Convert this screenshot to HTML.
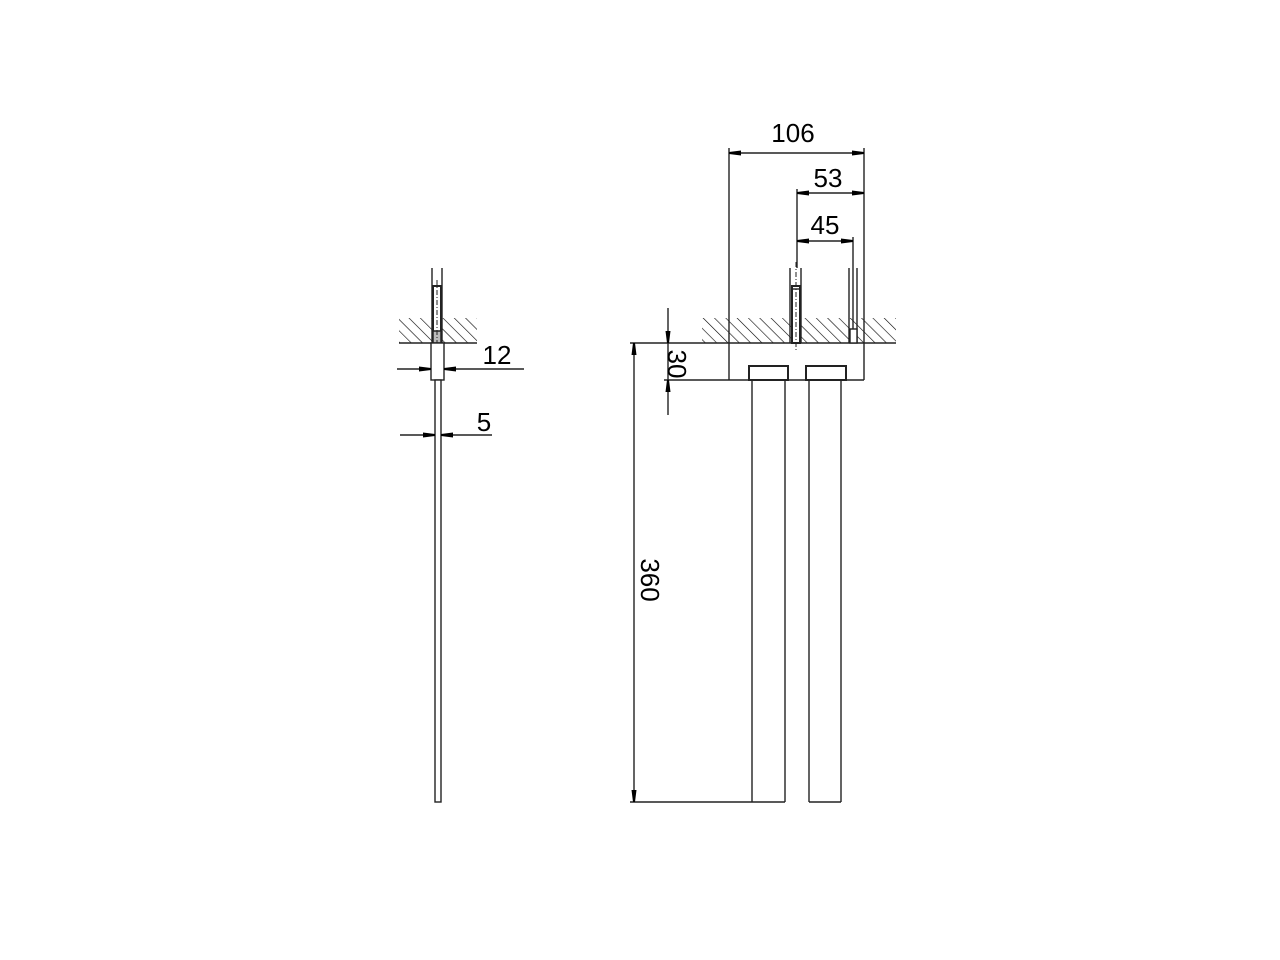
<!DOCTYPE html>
<html><head><style>body{margin:0;background:#fff}svg{display:block}</style></head>
<body>
<svg width="1280" height="960" viewBox="0 0 1280 960" xmlns="http://www.w3.org/2000/svg">
<defs>
<pattern id="h" width="8" height="8" patternUnits="userSpaceOnUse" patternTransform="rotate(-45)">
<line x1="0" y1="0" x2="0" y2="8" stroke="#000" stroke-width="1.2"/>
</pattern>
<marker id="a" viewBox="0 0 12 6" refX="12" refY="3" markerWidth="12" markerHeight="6" orient="auto-start-reverse" markerUnits="userSpaceOnUse">
<path d="M0,0.5 L12,2 L12,4 L0,5.5 Z" fill="#000"/></marker>
</defs>
<g stroke="#222" stroke-width="1.4" fill="none">
<!-- left view -->
<rect x="399" y="318" width="78" height="25" fill="url(#h)" stroke="none"/>
<line x1="399" y1="343" x2="477" y2="343"/>
<line x1="432" y1="268" x2="432" y2="343"/>
<line x1="442" y1="268" x2="442" y2="343"/>
<rect x="433" y="286" width="8" height="57" fill="#fff" stroke-width="2"/>
<rect x="433" y="331" width="8" height="12" fill="#bbb" stroke-width="1.5"/>
<line x1="437" y1="280" x2="437" y2="350" stroke-dasharray="5,2,1,2" stroke-width="1"/>
<rect x="431" y="343" width="13" height="37" fill="#fff"/>
<rect x="435" y="380" width="6" height="422" fill="#fff"/>
<line x1="397" y1="369" x2="431" y2="369" marker-end="url(#a)"/>
<line x1="524" y1="369" x2="444" y2="369" marker-end="url(#a)"/>
<line x1="400" y1="435" x2="435" y2="435" marker-end="url(#a)"/>
<line x1="492" y1="435" x2="441" y2="435" marker-end="url(#a)"/>
<!-- right view -->
<rect x="702" y="318" width="194" height="25" fill="url(#h)" stroke="none"/>
<line x1="630" y1="343" x2="896" y2="343"/>
<line x1="729" y1="148" x2="729" y2="380"/>
<line x1="864" y1="148" x2="864" y2="380"/>
<line x1="664" y1="380" x2="749" y2="380"/>
<line x1="788" y1="380" x2="806" y2="380"/>
<line x1="846" y1="380" x2="864" y2="380"/>
<line x1="797" y1="189" x2="797" y2="268"/>
<line x1="790" y1="268" x2="790" y2="343"/>
<line x1="801" y1="268" x2="801" y2="343"/>
<rect x="792" y="286" width="8" height="57" fill="#fff" stroke-width="2"/>
<line x1="792" y1="289" x2="800" y2="289"/>
<line x1="796" y1="262" x2="796" y2="350" stroke-dasharray="5,2,1,2" stroke-width="1"/>
<line x1="849" y1="268" x2="849" y2="343"/>
<line x1="853" y1="237" x2="853" y2="343"/>
<line x1="857" y1="268" x2="857" y2="343"/>
<rect x="850" y="329" width="7" height="14" fill="#fff"/>
<rect x="749" y="366" width="39" height="14" fill="#fff" stroke-width="2"/>
<rect x="806" y="366" width="40" height="14" fill="#fff" stroke-width="2"/>
<line x1="752" y1="380" x2="752" y2="802"/>
<line x1="785" y1="380" x2="785" y2="802"/>
<line x1="809" y1="380" x2="809" y2="802"/>
<line x1="841" y1="380" x2="841" y2="802"/>
<line x1="630" y1="802" x2="785" y2="802"/>
<line x1="809" y1="802" x2="841" y2="802"/>
<line x1="729" y1="153" x2="864" y2="153" marker-start="url(#a)" marker-end="url(#a)"/>
<line x1="797" y1="193" x2="864" y2="193" marker-start="url(#a)" marker-end="url(#a)"/>
<line x1="797" y1="241" x2="853" y2="241" marker-start="url(#a)" marker-end="url(#a)"/>
<line x1="634" y1="343" x2="634" y2="802" marker-start="url(#a)" marker-end="url(#a)"/>
<line x1="668" y1="308" x2="668" y2="343" marker-end="url(#a)"/>
<line x1="668" y1="415" x2="668" y2="380" marker-end="url(#a)"/>
<line x1="668" y1="343" x2="668" y2="380"/>
</g>
<g font-family="Liberation Sans, sans-serif" font-size="26" fill="#000" text-anchor="middle">
<text x="793" y="142">106</text>
<text x="828" y="187">53</text>
<text x="825" y="234">45</text>
<text x="497" y="364">12</text>
<text x="484" y="431">5</text>
<text transform="translate(668,364) rotate(90)">30</text>
<text transform="translate(641,580) rotate(90)">360</text>
</g>
</svg>
</body></html>
